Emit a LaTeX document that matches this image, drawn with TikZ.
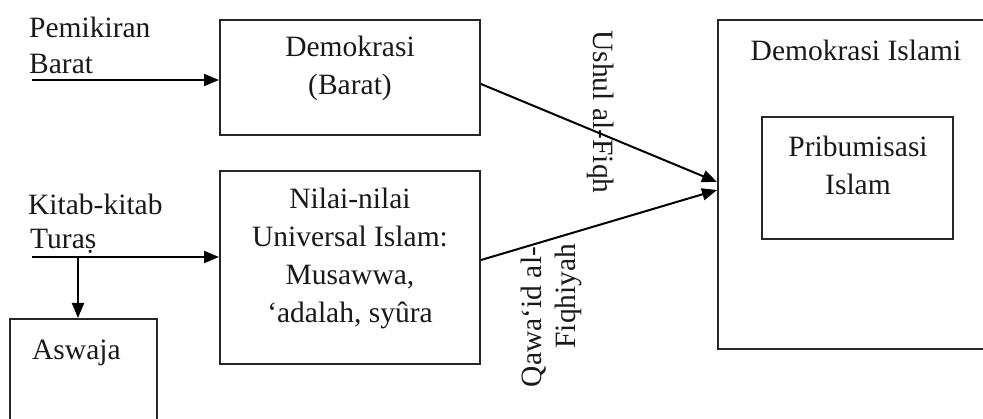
\documentclass[tikz,border=0pt]{standalone}
\usepackage{fontspec}
\setmainfont{Liberation Serif}
\usetikzlibrary{arrows.meta}
\begin{document}
\begin{tikzpicture}[x=1pt,y=-1pt,
  box/.style={draw=black!85, line width=2pt, inner sep=0pt},
  txt/.style={font=\fontsize{29.5}{36}\selectfont, text=black!90, inner sep=0pt, anchor=base},
  txtl/.style={txt, anchor=base west},
  rtxt/.style={font=\fontsize{29.5}{36}\selectfont, text=black!90, inner sep=0pt, anchor=center},
  arr/.style={line width=2pt, -{Triangle[length=15pt,width=12pt]}}]
\useasboundingbox (0,0) rectangle (983,419);
\clip (0,0) rectangle (983,419);
% boxes
\node[box, minimum width=260pt, minimum height=115pt] (demo) at (350,77.5) {};
\node[box, minimum width=260pt, minimum height=193pt] (nilai) at (350,267.5) {};
\node[box, minimum width=147pt, minimum height=121pt] (aswaja) at (83.5,379.5) {};
\node[box, minimum width=282pt, minimum height=329pt] (big) at (859,184.5) {};
\node[box, minimum width=191pt, minimum height=122pt] (inner) at (857.5,178) {};
% texts
\node[txtl] (t1) at (29,38) {Pemikiran};
\node[txtl] (t2) at (29,74) {Barat};
\node[txtl] (t3) at (28,215) {Kitab-kitab};
\node[txtl] (t4) at (30,249) {Turaṣ};
\node[txt] (d1) at (350,57) {Demokrasi};
\node[txt] (d2) at (350,95) {(Barat)};
\node[txt] (n1) at (350,209) {Nilai-nilai};
\node[txt] (n2) at (350,247) {Universal Islam:};
\node[txt] (n3) at (350,285) {Musawwa,};
\node[txt] (n4) at (350,323) {‘adalah, syûra};
\node[txt] (b1) at (856,61) {Demokrasi Islami};
\node[txt] (p1) at (858,157) {Pribumisasi};
\node[txt] (p2) at (858,195) {Islam};
\node[txtl] (a1) at (32,360) {Aswaja};
\node[rtxt, rotate=-90] (u1) at (601,112) {Ushul al-Fiqh};
\node[rtxt, rotate=90] (q1) at (534,317) {Qawa‘id al-};
\node[rtxt, rotate=90] (q2) at (568,296) {Fiqhiyah};
% connectors
\coordinate (sA) at (32,80);
\coordinate (sB) at (32,257);
\coordinate (sC) at (78,257);
\draw[arr] (sA) -- (sA -| demo.west);
\draw[arr] (sB) -- (sB -| nilai.west);
\draw[arr] (sC) -- (sC |- aswaja.north);
\draw[arr] ([yshift=-6.5pt]demo.east) -- ([yshift=2.5pt]big.west);
\draw[arr] ([yshift=7.5pt]nilai.east) -- ([yshift=-5.5pt]big.west);
\end{tikzpicture}
\end{document}
